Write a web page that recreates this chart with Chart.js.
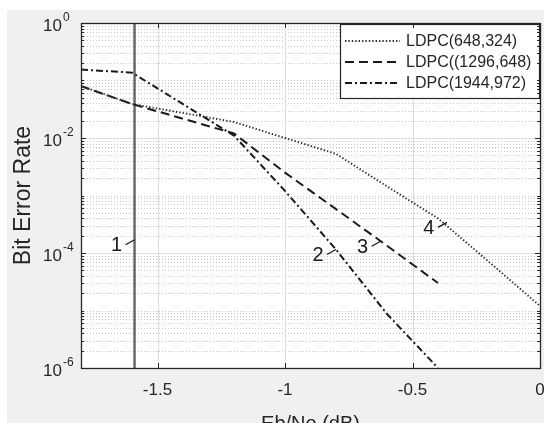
<!DOCTYPE html>
<html>
<head>
<meta charset="utf-8">
<title>LDPC BER</title>
<script src="https://cdn.jsdelivr.net/npm/chart.js@4.4.1/dist/chart.umd.min.js"></script>
<style>
  html, body { margin: 0; padding: 0; background: #ffffff; }
  canvas { display: block; }
</style>
</head>
<body>
<canvas id="ber" width="544" height="423"></canvas>
<script>
// Eb/No (dB) and bit error rate for each code
const ebno648 = [-1.8, -1.6, -1.2, -1.0, -0.8, -0.6, -0.4, -0.2, 0];
const ber648 = [0.08, 0.039, 0.019, 0.010, 0.0053, 0.00144, 0.0004, 0.00007, 0.000012];

const ebno1296 = [-1.8, -1.6, -1.2, -1.0, -0.8, -0.6, -0.4];
const ber1296 = [0.08, 0.039, 0.012, 0.0025, 0.00058, 0.000134, 0.00003];

const ebno1944 = [-1.8, -1.6, -1.2, -1.0, -0.8, -0.6, -0.4];
const ber1944 = [0.155, 0.137, 0.011, 0.0012, 0.000115, 0.0000087, 0.000001];

const shannonLimit = -1.59;

const xTicks = [-1.5, -1, -0.5, 0];
const yDecades = [0, -2, -4, -6];

// numbered markers on the curves
const noteLabels = ['1', '2', '3', '4'];
const noteX = [-1.59, -0.8, -0.625, -0.365];
const noteY = [1.7e-4, 1.15e-4, 1.6e-4, 3.4e-4];

const FONT = '"Liberation Sans", Arial, sans-serif';
const INK = '#262626';

function toPoints(xs, ys) {
    return xs.map((v, i) => ({ x: v, y: ys[i] }));
}

function isLabelledDecade(v) {
    const e = Math.log10(v);
    return Math.abs(e - Math.round(e)) < 1e-9 && yDecades.includes(Math.round(e));
}

const figurePlugin = {
    id: 'figure',
    beforeDraw(chart) {
        const { ctx, chartArea: a, width, height } = chart;
        const y = chart.scales.y;
        const x = chart.scales.x;
        ctx.save();
        ctx.fillStyle = '#ffffff';
        ctx.fillRect(0, 0, width, height);
        ctx.fillStyle = '#f0f0f0';
        ctx.fillRect(7, 10, width - 7, height - 10);
        ctx.fillStyle = '#ffffff';
        ctx.fillRect(a.left, a.top, a.right - a.left, a.bottom - a.top);

        // horizontal grid: solid at labelled decades, dotted elsewhere
        y.ticks.forEach(t => {
            const py = Math.round(y.getPixelForValue(t.value)) + 0.5;
            ctx.beginPath();
            ctx.lineWidth = 1;
            if (isLabelledDecade(t.value)) {
                ctx.setLineDash([]);
                ctx.strokeStyle = '#dcdcdc';
            } else {
                ctx.setLineDash([1, 2]);
                ctx.strokeStyle = '#c8c8c8';
            }
            ctx.moveTo(a.left, py);
            ctx.lineTo(a.right, py);
            ctx.stroke();
        });

        // vertical grid at the x ticks
        ctx.setLineDash([]);
        ctx.strokeStyle = '#dcdcdc';
        x.ticks.forEach(t => {
            const px = Math.round(x.getPixelForValue(t.value)) + 0.5;
            ctx.beginPath();
            ctx.moveTo(px, a.top);
            ctx.lineTo(px, a.bottom);
            ctx.stroke();
        });
        ctx.restore();
    },
    afterDatasetsDraw(chart) {
        const { ctx, chartArea: a } = chart;
        const x = chart.scales.x;
        const y = chart.scales.y;
        ctx.save();

        // curve markers
        ctx.strokeStyle = '#1a1a1a';
        ctx.fillStyle = '#1a1a1a';
        ctx.lineWidth = 1.3;
        ctx.font = '20px ' + FONT;
        ctx.textAlign = 'center';
        ctx.textBaseline = 'middle';
        noteLabels.forEach((lab, i) => {
            const px = x.getPixelForValue(noteX[i]);
            const py = y.getPixelForValue(noteY[i]);
            ctx.beginPath();
            ctx.moveTo(px - 9, py + 5);
            ctx.lineTo(px, py);
            ctx.stroke();
            ctx.fillText(lab, px - 18, py + 6);
        });

        // legend box in the upper right corner
        const items = chart.data.datasets.filter(d => d.label);
        const boxW = 199, rowH = 21;
        const boxH = items.length * rowH + 11;
        const bx = a.right - boxW - 1, by = a.top + 1;
        ctx.fillStyle = '#ffffff';
        ctx.fillRect(bx, by, boxW, boxH);
        ctx.strokeStyle = INK;
        ctx.lineWidth = 1.2;
        ctx.setLineDash([]);
        ctx.strokeRect(bx + 0.5, by + 0.5, boxW, boxH);
        ctx.font = '16px ' + FONT;
        ctx.textAlign = 'left';
        items.forEach((d, i) => {
            const ry = by + 17 + i * rowH;
            ctx.beginPath();
            ctx.strokeStyle = d.borderColor;
            ctx.lineWidth = d.borderWidth;
            ctx.setLineDash(d.borderDash || []);
            ctx.moveTo(bx + 5, ry);
            ctx.lineTo(bx + 60, ry);
            ctx.stroke();
            ctx.setLineDash([]);
            ctx.fillStyle = INK;
            ctx.fillText(d.label, bx + 66, ry + 1);
        });
        ctx.restore();
    },
    afterDraw(chart) {
        const { ctx, chartArea: a } = chart;
        const x = chart.scales.x;
        const y = chart.scales.y;
        ctx.save();
        ctx.strokeStyle = INK;
        ctx.lineWidth = 1;

        // tick marks pointing into the axes
        y.ticks.forEach(t => {
            const len = isLabelledDecade(t.value) ? 5 : 3;
            const py = Math.round(y.getPixelForValue(t.value)) + 0.5;
            ctx.beginPath();
            ctx.moveTo(a.left, py); ctx.lineTo(a.left + len, py);
            ctx.moveTo(a.right, py); ctx.lineTo(a.right - len, py);
            ctx.stroke();
        });
        x.ticks.forEach(t => {
            const px = Math.round(x.getPixelForValue(t.value)) + 0.5;
            ctx.beginPath();
            ctx.moveTo(px, a.bottom); ctx.lineTo(px, a.bottom - 5);
            ctx.moveTo(px, a.top); ctx.lineTo(px, a.top + 5);
            ctx.stroke();
        });

        // axes box
        ctx.lineWidth = 1.3;
        ctx.strokeRect(Math.round(a.left) + 0.5, Math.round(a.top) + 0.5,
            Math.round(a.right - a.left), Math.round(a.bottom - a.top));

        // y tick labels as 10 with a raised exponent
        ctx.fillStyle = INK;
        ctx.textBaseline = 'middle';
        yDecades.forEach(d => {
            const py = y.getPixelForValue(Math.pow(10, d));
            ctx.font = '17px ' + FONT;
            ctx.textAlign = 'right';
            ctx.fillText('10', a.left - 19, py + 3);
            ctx.font = '12px ' + FONT;
            ctx.textAlign = 'left';
            ctx.fillText(d === 0 ? '0' : '-' + (-d), a.left - 18, py - 5);
        });

        // axis titles
        ctx.textAlign = 'center';
        ctx.textBaseline = 'alphabetic';
        ctx.font = '20px ' + FONT;
        ctx.fillText('Eb/No (dB)', (a.left + a.right) / 2, 430);
        ctx.font = '23px ' + FONT;
        ctx.translate(30, (a.top + a.bottom) / 2);
        ctx.rotate(-Math.PI / 2);
        ctx.fillText('Bit Error Rate', 0, 0);
        ctx.restore();
    }
};

new Chart(document.getElementById('ber'), {
    type: 'line',
    data: {
        datasets: [
            {
                label: 'LDPC(648,324)',
                data: toPoints(ebno648, ber648),
                borderColor: '#303030', borderWidth: 1.9, borderDash: [1.4, 2], borderCapStyle: 'butt'
            },
            {
                label: 'LDPC((1296,648)',
                data: toPoints(ebno1296, ber1296),
                borderColor: '#1a1a1a', borderWidth: 2, borderDash: [9, 5]
            },
            {
                label: 'LDPC(1944,972)',
                data: toPoints(ebno1944, ber1944),
                borderColor: '#1a1a1a', borderWidth: 2, borderDash: [7, 3, 2, 3]
            },
            {
                label: '',
                data: [{ x: shannonLimit, y: 1 }, { x: shannonLimit, y: 1e-6 }],
                borderColor: '#646464', borderWidth: 2.4
            }
        ]
    },
    options: {
        responsive: false,
        animation: false,
        layout: { padding: { top: 23, left: 0, right: 0, bottom: 0 } },
        elements: { point: { radius: 0 }, line: { tension: 0 } },
        plugins: { legend: { display: false }, tooltip: { enabled: false } },
        scales: {
            x: {
                type: 'linear',
                min: -1.8,
                max: 0,
                grid: { display: false, drawTicks: false },
                border: { display: false },
                ticks: {
                    color: INK,
                    padding: 12,
                    font: { family: FONT, size: 17 },
                    callback: v => String(v)
                },
                afterBuildTicks: s => { s.ticks = xTicks.map(v => ({ value: v })); },
                afterFit: s => {
                    s.height = 55;
                    s.paddingLeft = 0;
                    s.paddingRight = 4;
                }
            },
            y: {
                type: 'logarithmic',
                min: 1e-6,
                max: 1,
                grid: { display: false, drawTicks: false },
                border: { display: false },
                ticks: { display: false },
                afterBuildTicks: s => {
                    const t = [];
                    for (let k = -6; k < 0; k++) {
                        for (let m = 1; m < 10; m++) t.push({ value: m * Math.pow(10, k) });
                    }
                    t.push({ value: 1 });
                    s.ticks = t;
                },
                afterFit: s => { s.width = 81; }
            }
        }
    },
    plugins: [figurePlugin]
});
</script>
</body>
</html>
